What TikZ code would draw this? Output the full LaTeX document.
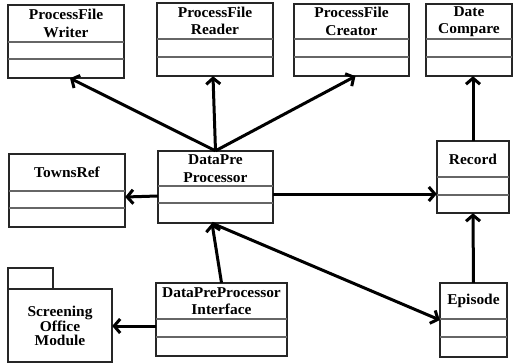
\documentclass[tikz,border=0pt]{standalone}
\usepackage{fontspec}
\setmainfont{Liberation Serif}[FakeStretch=1.03]
\usetikzlibrary{arrows.meta,fit}

\tikzset{
  boxline/.style={draw=black!85, line width=1.5pt},
  divline/.style={draw=black!60, line width=1.1pt},
  title/.style={font=\bfseries\fontsize{15}{17.5}\selectfont, align=center, inner sep=0pt},
  arr/.style={line width=3pt, -{Straight Barb[length=6pt,width=14pt,line width=3pt]}},
}

% class box: name, left, top, right, bottom, divider 1, divider 2, title
\newcommand\umlclass[8]{%
  \draw[boxline] (#2,-#3) rectangle (#4,-#5);
  \node[inner sep=0pt, fit={(#2,-#3) (#4,-#5)}] (#1) {};
  \draw[divline] (#2,-#6) -- (#4,-#6);
  \draw[divline] (#2,-#7) -- (#4,-#7);
  \node[title] at ({(#2+#4)/2},{-(#3+#6)/2}) {#8};
}

\begin{document}
\begin{tikzpicture}[x=1pt,y=1pt]
  \useasboundingbox[fill=white] (0,0) rectangle (515,-364);

  % top row
  \umlclass{pw}{8}{5}{124}{78}{42}{59}{ProcessFile\\Writer}
  \umlclass{pr}{157}{3}{273}{76}{39}{57}{ProcessFile\\Reader}
  \umlclass{pc}{294}{4}{409}{76}{39}{57}{ProcessFile\\Creator}
  \umlclass{dc}{426}{4}{512}{76}{39}{57}{Date\\Compare}

  % middle row
  \umlclass{tr}{9}{154}{125}{227}{191}{208}{TownsRef}
  \umlclass{dp}{158}{151}{273}{223}{186}{203}{DataPre\\Processor}
  \umlclass{rc}{437}{141}{509}{213}{177}{195}{Record}

  % bottom row
  \umlclass{ifc}{156}{283}{287}{356}{319}{337}{DataPreProcessor\\Interface}
  \umlclass{ep}{440}{283}{507}{357}{319}{337}{Episode}

  % package
  \draw[boxline] (8,-268) rectangle (53,-289);
  \draw[boxline] (8,-289) rectangle (112,-362);
  \node[inner sep=0pt, fit={(8,-289) (112,-362)}] (sm) {};
  \node[title, font=\bfseries\fontsize{15}{14.5}\selectfont] at (60,-326) {Screening\\Office\\Module};

  % helper points
  \coordinate (dpb) at ([xshift=-3.5pt]dp.south);
  \coordinate (row) at (0,-194);
  \coordinate (ifw) at ([yshift=-6.5pt]ifc.west);

  % connectors
  \draw[arr] (dp.north) -- ([xshift=4pt]pw.south);
  \draw[arr] (dp.north) -- ([xshift=-2pt]pr.south);
  \draw[arr] (dp.north) -- ([xshift=4pt]pc.south);
  \draw[arr] ([yshift=-9pt]dp.west) -- ([yshift=-6.5pt]tr.east);
  \draw[arr] (dp.east |- row) -- (rc.west |- row);
  \draw[arr] (rc.north) -- (dc.south -| rc.north);
  \draw[arr] (ep.north) -- (rc.south);
  \draw[arr] (ifc.north) -- (dpb);
  \draw[arr] (dpb) -- (ep.west);
  \draw[arr] (ifw) -- (sm.east |- ifw);
\end{tikzpicture}
\end{document}
